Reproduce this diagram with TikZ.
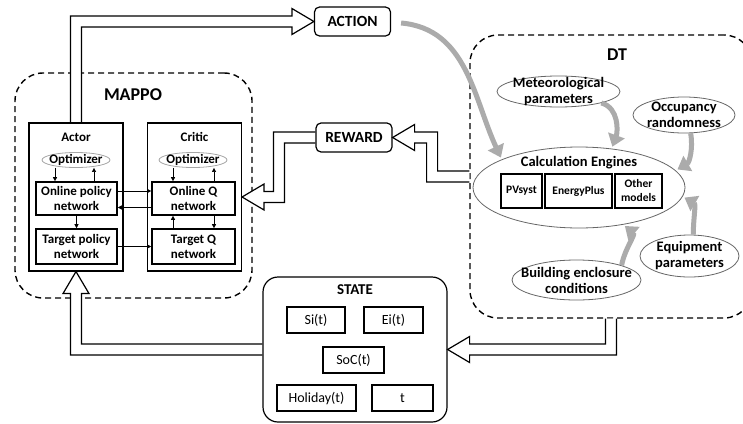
\documentclass[tikz,border=0pt]{standalone}
\usepackage{fontspec}
\setmainfont{Carlito}
\usetikzlibrary{arrows.meta,positioning,calc,shapes.geometric}
\pgfdeclarelayer{back}
\pgfdeclarelayer{mid}
\pgfsetlayers{back,mid,main}
\tikzset{
    groupbox/.style = {
        draw,
        line width=1.4pt,
        dash pattern=on 6pt off 4pt,
        rounded corners=28pt,
        inner sep=0pt
    },
    agentbox/.style = {
        draw,
        line width=1.1pt,
        minimum width=94pt,
        minimum height=148pt,
        inner sep=0pt
    },
    netbox/.style = {
        draw,
        line width=1.6pt,
        align=center,
        inner sep=0pt,
        font=\bfseries\fontsize{13}{15}\selectfont
    },
    labeltext/.style = {
        align=center,
        inner sep=0pt,
        font=\bfseries\fontsize{13}{15}\selectfont
    },
    factortext/.style = {
        align=center,
        inner sep=0pt,
        font=\bfseries\fontsize{14.5}{16}\selectfont
    },
    titletext/.style = {
        inner sep=0pt,
        font=\bfseries\fontsize{18}{20}\selectfont
    },
    optnode/.style = {
        draw=gray!70,
        ellipse,
        line width=0.8pt,
        minimum width=68pt,
        minimum height=15pt,
        inner sep=0pt
    },
    signalbox/.style = {
        draw,
        line width=1.2pt,
        rounded corners=5pt,
        minimum width=76pt,
        minimum height=29pt,
        inner sep=0pt,
        font=\bfseries\fontsize{15.5}{18}\selectfont
    },
    statebox/.style = {
        draw,
        line width=1.8pt,
        minimum height=26pt,
        inner sep=0pt,
        font=\fontsize{14}{16}\selectfont
    },
    factornode/.style = {
        draw=gray!80!black,
        ellipse,
        line width=0.8pt,
        inner sep=0pt
    },
    enginebox/.style = {
        draw,
        line width=1.6pt,
        minimum height=34pt,
        inner sep=0pt,
        align=center,
        font=\bfseries\fontsize{11.5}{14}\selectfont
    },
    blockarrow/.style = {draw, line width=1.2pt, fill=white},
    smallarrow/.style = {-{Triangle[length=4pt,width=4pt]}, line width=0.6pt},
    grayarrow/.style = {draw=black!33, line width=5pt, -{Triangle[length=12pt,width=17pt]}, shorten >=2pt}
}

\begin{document}
\begin{tikzpicture}[x=1pt, y=-1pt]
    \useasboundingbox (0,0) rectangle (743,423);

    % dashed groups
    \begin{pgfonlayer}{back}
        \node [groupbox, minimum width=237pt, minimum height=225pt] (mappo) at (133.5,185.5) {};
        \node [groupbox, minimum width=282pt, minimum height=283pt] (dt) at (611,176.5) {};
    \end{pgfonlayer}
    \node [titletext] at (133,95) {MAPPO};
    \node [titletext] at (617,55) {DT};

    % actor and critic
    \node [agentbox] (actor) at (76,197) {};
    \node [agentbox] (critic) at (194.5,197) {};
    \node [labeltext] at (76,137) {Actor};
    \node [labeltext] at (194.5,137) {Critic};
    \node [optnode] (optA) at (76,160) {};
    \node [labeltext] at (optA) {Optimizer};
    \node [optnode] (optC) at (193,160) {};
    \node [labeltext] at (optC) {Optimizer};
    \node [netbox, minimum width=81pt, minimum height=33pt] (onp) at (76.5,198.5) {Online policy\\network};
    \node [netbox, minimum width=83pt, minimum height=33pt] (onq) at (193.5,198.5) {Online Q\\network};
    \node [netbox, minimum width=81pt, minimum height=35pt] (tgp) at (76.5,246.5) {Target policy\\network};
    \node [netbox, minimum width=83pt, minimum height=35pt] (tgq) at (193.5,246.5) {Target Q\\network};

    \draw [smallarrow] ([xshift=-21pt]optA.south) -- ([xshift=-21pt]optA.south |- onp.north);
    \draw [smallarrow] ([xshift=18pt]optA.south |- onp.north) -- ([xshift=18pt]optA.south);
    \draw [smallarrow] ([xshift=-20pt]optC.south) -- ([xshift=-20pt]optC.south |- onq.north);
    \draw [smallarrow] ([xshift=21pt]optC.south |- onq.north) -- ([xshift=21pt]optC.south);
    \draw [smallarrow] ([yshift=7.5pt]onp.east) -- ([yshift=7.5pt]onp.east -| onq.west);
    \draw [smallarrow] ([yshift=-9pt]onq.west) -- ([yshift=-9pt]onq.west -| onp.east);
    \draw [smallarrow] (onp.south) -- (tgp.north);
    \draw [smallarrow] (tgp.east) -- (tgp.east -| tgq.west);
    \draw [smallarrow] ([xshift=-20.5pt]tgq.north) -- ([xshift=-20.5pt]tgq.north |- onq.south);
    \draw [smallarrow] ([xshift=20.5pt]onq.south) -- ([xshift=20.5pt]onq.south |- tgq.north);

    % signals
    \node [signalbox] (action) at (352.5,21.5) {ACTION};
    \node [signalbox] (reward) at (354,137.5) {REWARD};

    % state
    \node [draw, line width=1.2pt, rounded corners=15pt, minimum width=184pt, minimum height=145pt] (state) at (355,349.5) {};
    \node [font=\bfseries\fontsize{15}{18}\selectfont, inner sep=0pt] at (355,290) {STATE};
    \node [statebox, minimum width=58pt] (si) at (316,320) {Si(t)};
    \node [statebox, minimum width=59pt] (ei) at (393.5,320) {Ei(t)};
    \node [statebox, minimum width=61pt] (soc) at (353.5,360) {SoC(t)};
    \node [statebox, minimum width=79pt] (hol) at (316.5,398) {Holiday(t)};
    \node [statebox, minimum width=61pt] (tt) at (402.5,398) {t};

    % digital twin
    \node [factornode, minimum width=212pt, minimum height=81pt] (engines) at (579,187.5) {};
    \node [factortext] at (579,163) {Calculation Engines};
    \node [enginebox, minimum width=41pt] (pvs) at (521.5,191) {PVsyst};
    \node [enginebox, minimum width=67pt] (eplus) at (578.5,191) {EnergyPlus};
    \node [enginebox, minimum width=47pt] (other) at (638.5,191) {Other\\models};
    \node [factornode, minimum width=123pt, minimum height=31pt] (met) at (558.5,91.5) {};
    \node [factortext] at (met) {Meteorological\\parameters};
    \node [factornode, minimum width=102pt, minimum height=36pt] (occ) at (684,115) {};
    \node [factortext] at (occ) {Occupancy\\randomness};
    \node [factornode, minimum width=129pt, minimum height=40pt] (build) at (576.5,280) {};
    \node [factortext] at (build) {Building enclosure\\conditions};
    \node [factornode, minimum width=99pt, minimum height=42pt] (equip) at (689.5,256) {};
    \node [factortext] at (equip) {Equipment\\parameters};

    \draw [grayarrow] ([xshift=10pt,yshift=-1.5pt]action.east) to[out=-5, in=115] (engines.160);
    \draw [grayarrow] (met.-15) to[out=-15, in=70] (engines.50);
    \draw [grayarrow] (occ.-70) to[out=-80, in=30] (engines.10);
    \draw [grayarrow] (equip.80) to[out=90, in=-30] (engines.-5);
    \draw [grayarrow] (build.18) to[out=80, in=-40] (engines.-40);

    % hollow block arrows
    \begin{pgfonlayer}{mid}
        \draw [blockarrow] ($(actor.north)+(-5.5,0)$) |- ($(action.west)+(-22,-5.5)$) -- ++(0,-7.5) -- (action.west)
            -- ++(-22,13) -- ++(0,-7.5) -| ($(actor.north)+(5.5,0)$);
        \draw [blockarrow] ($(reward.west)+(0,-5.5)$) -| ($(critic.east)+(31.5,-5.5)$) -- ($(critic.east)+(22,-5.5)$)
            -- ++(0,-7.5) -- (critic.east) -- ++(22,13) -- ++(0,-7.5) -- ($(critic.east)+(42.5,5.5)$) |- ($(reward.west)+(0,5.5)$);
        \draw [blockarrow] ($(dt.west)+(0,-5.5)$) -| ($(reward.east)+(45,-5.5)$) -- ($(reward.east)+(22,-5.5)$)
            -- ++(0,-7.5) -- (reward.east) -- ++(22,13) -- ++(0,-7.5) -- ($(reward.east)+(34,5.5)$) |- ($(dt.west)+(0,5.5)$);
        \draw [blockarrow] ($(dt.south)+(-5.5,0)$) |- ($(state.east)+(22,-5.5)$) -- ++(0,-7.5) -- (state.east)
            -- ++(22,13) -- ++(0,-7.5) -| ($(dt.south)+(5.5,0)$);
        \draw [blockarrow] ($(state.west)+(0,-5.5)$) -| ($(actor.south)+(5.5,22)$) -- ++(7.5,0) -- (actor.south)
            -- ++(-13,22) -- ++(7.5,0) |- ($(state.west)+(0,5.5)$);
    \end{pgfonlayer}
\end{tikzpicture}
\end{document}
